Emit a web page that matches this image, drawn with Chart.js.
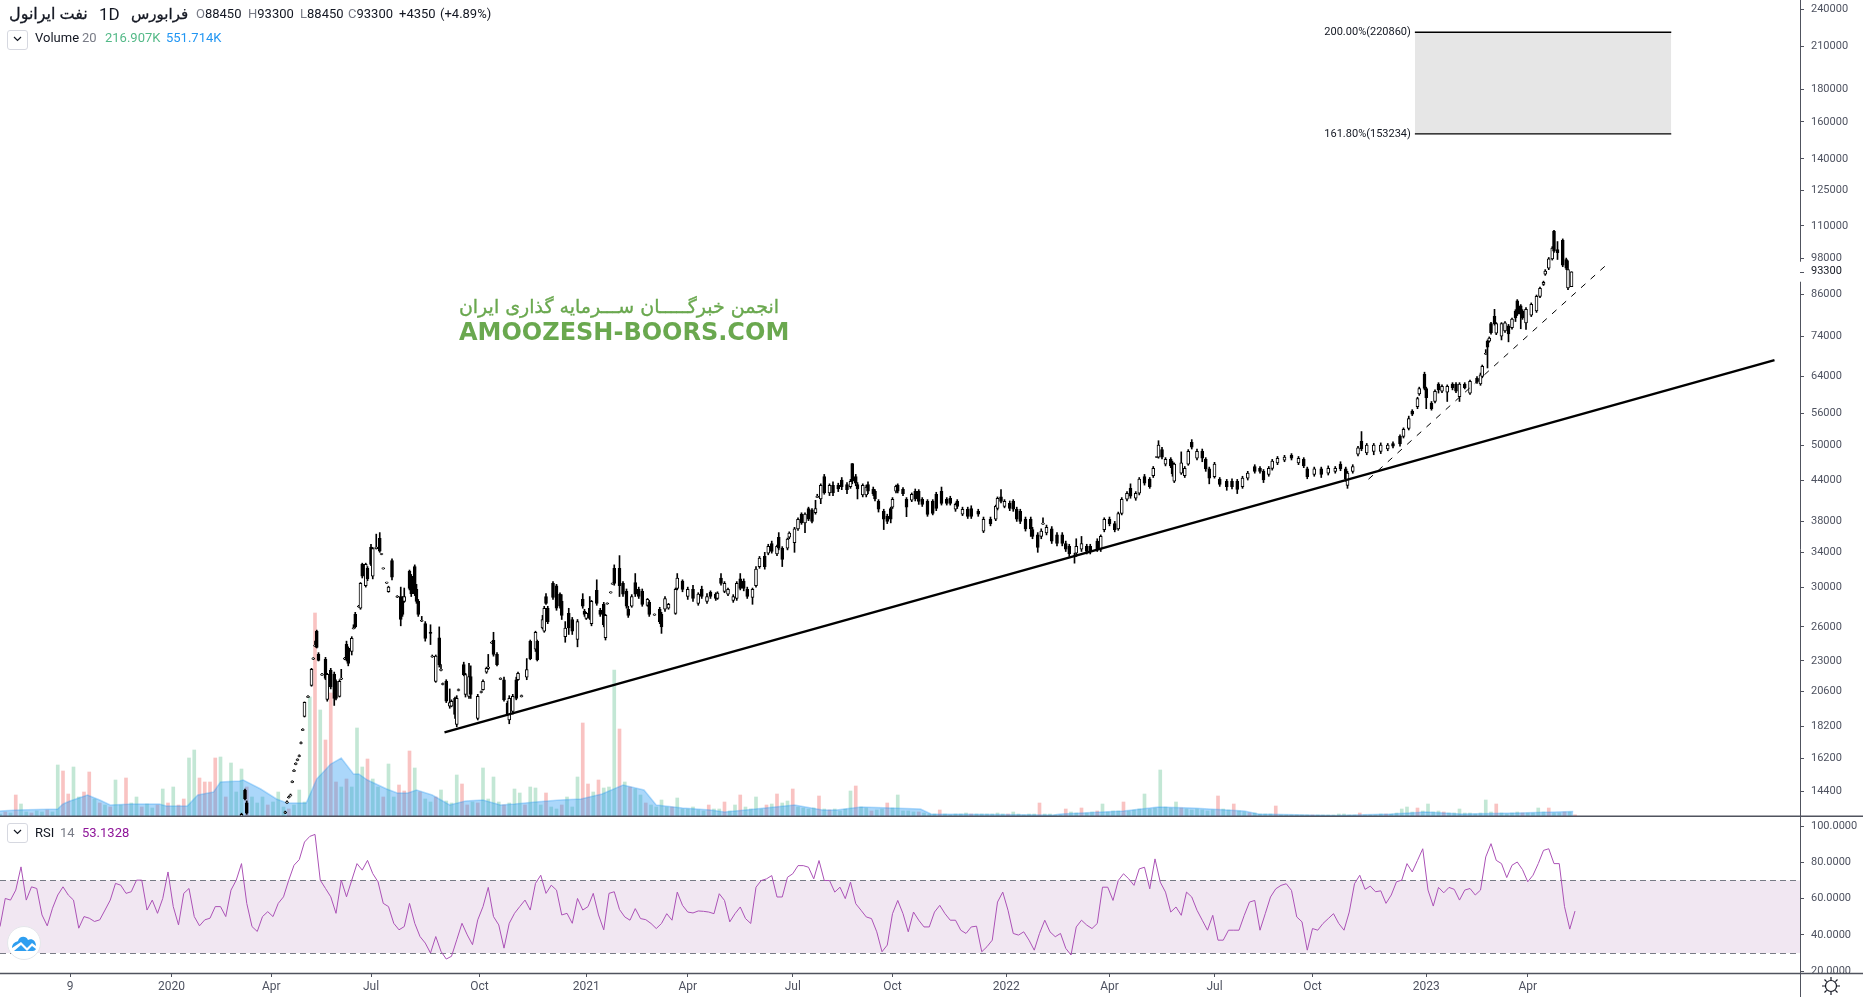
<!DOCTYPE html>
<html>
<head>
<meta charset="utf-8">
<title>نفت ایرانول</title>
<script src="https://cdn.jsdelivr.net/npm/chart.js@4/dist/chart.umd.js"></script>
<style>
  html, body { margin: 0; padding: 0; background: #fff; overflow: hidden; }
  #wrap { position: relative; width: 1863px; height: 997px; font-family: Roboto, "DejaVu Sans", sans-serif; color: #131722; }
  canvas { position: absolute; left: 0; }
  #main-chart { top: 0; }
  #rsi-chart { top: 817px; }
  .t { position: absolute; white-space: nowrap; font-size: 13px; line-height: 16px; }
  .box { position: absolute; left: 7px; width: 19px; height: 18px; border: 1px solid #d6d8e0; border-radius: 3px; background: #fff; }
  .box svg { display: block; margin: 5px auto 0; }
  .wm { position: absolute; white-space: nowrap; color: #6aa84f; }
</style>
</head>
<body>
<div id="wrap">
  <canvas id="main-chart" width="1863" height="817"></canvas>
  <canvas id="rsi-chart" width="1863" height="180"></canvas>

  <span class="t" style="left:9px;top:6px;font-size:16px;-webkit-text-stroke:0.3px #131722" dir="rtl">نفت ایرانول</span>
  <span class="t" style="left:99px;top:6px;font-size:17px">1D</span>
  <span class="t" style="left:131px;top:6px;font-size:15px;-webkit-text-stroke:0.3px #131722" dir="rtl">فرابورس</span>
  <span class="t" style="left:196px;top:6px"><span style="color:#787b86">O</span>88450</span>
  <span class="t" style="left:248px;top:6px"><span style="color:#787b86">H</span>93300</span>
  <span class="t" style="left:300px;top:6px"><span style="color:#787b86">L</span>88450</span>
  <span class="t" style="left:348px;top:6px"><span style="color:#787b86">C</span>93300</span>
  <span class="t" style="left:399px;top:6px">+4350</span>
  <span class="t" style="left:440px;top:6px">(+4.89%)</span>

  <div class="box" style="top:30px"><svg width="9" height="6"><path d="M1 1 L4.5 4.5 L8 1" fill="none" stroke="#131722" stroke-width="1.2"/></svg></div>
  <span class="t" style="left:35px;top:30px">Volume</span>
  <span class="t" style="left:82px;top:30px;color:#787b86">20</span>
  <span class="t" style="left:105px;top:30px;color:#53b987">216.907K</span>
  <span class="t" style="left:166px;top:30px;color:#2196f3">551.714K</span>

  <div class="box" style="top:823px"><svg width="9" height="6"><path d="M1 1 L4.5 4.5 L8 1" fill="none" stroke="#131722" stroke-width="1.2"/></svg></div>
  <span class="t" style="left:35px;top:825px">RSI</span>
  <span class="t" style="left:60px;top:825px;color:#787b86">14</span>
  <span class="t" style="left:82px;top:825px;color:#8e1599">53.1328</span>

  <span class="wm" style="left:458px;top:295px;width:322px;text-align:center;font:19px 'DejaVu Sans';-webkit-text-stroke:0.35px #6aa84f" dir="rtl">انجمن خبرگـــــان ســـرمایه گذاری ایران</span>
  <span class="wm" style="left:459px;top:318px;font:bold 24px 'DejaVu Sans'">AMOOZESH-BOORS.COM</span>

  <svg style="position:absolute;left:6px;top:925px" width="36" height="36">
    <circle cx="18" cy="18" r="16.5" fill="#fff" stroke="#e4e6ea"/>
    <path d="M6 23 C6 18 10 17 12 16 C13 11 20 10 22 15 C26 13 30 16 30 21 L26 18 L21 23 L15 17 Z M8 26 L15 20 L21 26 L26 21 L30 24 C29 26 27 26 26 26 Z" fill="#2e9ef0"/>
  </svg>
  <svg style="position:absolute;left:1821px;top:976px" width="20" height="20">
    <circle cx="10" cy="10" r="5.5" fill="none" stroke="#131722" stroke-width="1.2"/>
    <path d="M10 1 V4 M10 16 V19 M1 10 H4 M16 10 H19 M3.5 3.5 L5.6 5.6 M14.4 14.4 L16.5 16.5 M3.5 16.5 L5.6 14.4 M14.4 5.6 L16.5 3.5" stroke="#131722" stroke-width="1.2"/>
  </svg>
</div>

<script>
// price axis
const priceTicks = [240000, 210000, 180000, 160000, 140000, 125000, 110000, 98000, 93300, 86000, 74000, 64000, 56000, 50000, 44000, 38000, 34000, 30000, 26000, 23000, 20600, 18200, 16200, 14400];
const rsiTicks = [100, 80, 60, 40, 20];
// time axis, in trading sessions from the left edge
const timeTickSessions = [40, 98, 155, 212, 274, 335, 393, 453, 510, 575, 634, 694, 750, 815, 873];
const timeTickLabels = ['9', '2020', 'Apr', 'Jul', 'Oct', '2021', 'Apr', 'Jul', 'Oct', '2022', 'Apr', 'Jul', 'Oct', '2023', 'Apr'];
const lastPrice = 93300;

const sessions = [
  138,140,141,163,164,165,166,167,168,169,
  170,171,172,173,174,176,178,179,180,181,
  182,184,186,187,189,191,192,194,195,197,
  198,199,201,202,203,205,206,207,209,210,
  212,213,215,217,218,219,221,222,224,227,
  229,230,231,234,235,237,238,239,241,243,
  246,247,249,251,252,253,255,257,258,260,
  261,262,265,266,268,269,273,275,276,278,
  279,281,282,284,286,288,290,291,293,295,
  296,298,301,303,306,307,310,311,312,313,
  316,318,320,321,323,325,327,330,333,334,
  335,337,338,341,343,345,346,347,349,350,
  351,354,356,358,359,361,363,365,367,370,
  371,374,377,378,380,382,386,387,390,393,
  396,399,401,404,406,409,410,412,414,416,
  419,421,423,425,427,430,432,434,437,439,
  441,444,445,447,450,451,454,456,458,460,
  462,464,466,467,469,471,474,476,479,481,
  484,486,487,489,490,493,495,496,499,500,
  502,505,507,509,510,512,513,516,518,521,
  523,525,527,530,533,535,538,541,543,546,
  547,550,553,555,559,562,566,569,570,572,
  574,577,579,581,583,586,589,590,593,595,
  596,598,601,604,607,609,611,614,615,618,
  621,623,627,629,631,634,637,639,641,644,
  646,649,651,654,657,659,661,662,664,666,
  669,670,671,675,677,679,681,684,687,689,
  691,694,697,701,704,707,710,713,717,720,
  722,725,727,730,734,738,742,745,747,751,
  755,759,763,766,769,770,773,776,778,781,
  785,789,793,796,800,802,805,807,810,811,
  814,815,818,820,822,824,827,830,832,834,
  837,840,844,846,847,849,850,851,852,854,
  855,858,860,862,864,866,867,869,870,872,
  875,878,880,882,883,885,887,888,890,893,
  895,896,898
];
const opens = [
  13100,14450,13800,13300,13800,14060,14160,14860,15460,15850,
  16080,16310,17090,17920,18840,20180,21060,23150,24260,25590,
  23550,21860,23130,20020,22240,21930,21370,20250,21550,23150,
  24420,24060,23810,25830,27200,27930,27800,32550,30150,32100,
  34650,31200,34450,35750,33730,32030,30430,29500,33000,28930,
  29000,28800,28500,31750,31200,32300,29750,28500,26530,26300,
  25500,23330,21370,25000,22230,21130,21370,19550,19550,20100,
  18300,20680,22700,20400,20250,21750,18700,20530,20750,22100,
  22400,24530,24780,23550,21530,21500,19750,18600,19180,21500,
  21500,20230,21700,24680,24000,24680,25900,25600,29000,27800,
  30400,30150,29250,28500,25100,27300,26700,24850,28700,27500,
  26800,27800,26300,29650,27600,28200,25000,28230,29380,30330,
  32100,32100,30400,29550,27700,28000,30500,29750,29550,28100,
  28400,27130,27700,27200,27700,27800,27300,29850,30650,29000,
  29750,28300,29750,28500,29450,29250,28800,31000,29550,29250,
  28600,28800,30900,30650,29750,28900,30150,32300,33500,33900,
  35100,33800,35900,34500,34500,35900,35200,37000,39000,37800,
  39800,39600,39200,41430,41200,44650,42100,43250,43250,44100,
  43400,43050,46800,44650,43400,41800,41800,43400,42650,42350,
  40850,39400,38700,39800,40000,42350,43250,42650,41150,41000,
  42350,42350,41150,40850,40850,41900,42350,41150,41300,39700,
  40850,39000,39700,39800,39400,36700,38300,38300,39800,41500,
  40100,40550,40850,39700,39400,38300,38300,36900,36200,36000,
  37630,36450,37000,36200,36200,35100,34750,33430,33900,34400,
  34750,34750,35400,34400,36900,38300,37700,37000,39100,41150,
  42800,41300,42050,44650,44250,44800,47830,47900,49200,46700,
  47500,46900,43900,45200,44800,46700,50500,47700,48900,47500,
  45900,44650,44250,43900,43900,43900,43050,44400,46300,46000,
  45500,45000,46000,46900,47350,48200,46900,47500,45900,45000,
  45900,45200,45500,46700,45900,43250,45500,48400,50700,48600,
  48900,48900,49300,50300,51600,51600,53100,56500,57400,60100,
  64500,61300,58150,58500,62300,60700,60500,62300,62300,59500,
  62300,60300,63600,62300,64000,69330,72700,72700,77400,79500,
  74800,74000,75400,76800,76300,81000,84000,82500,81000,77600,
  79800,81000,85400,89100,92500,94500,97700,108000,101000,104500,
  97500,88000,88450
];
const highs = [
  13300,14500,13900,13400,13900,14150,14250,14950,15560,15950,
  16180,16410,17200,18030,19850,20300,22400,23280,24700,25700,
  23700,22000,23300,22000,22400,22100,21500,21500,22320,23300,
  24700,24200,25100,26200,27400,28100,30500,32700,32700,32300,
  35000,34600,36300,36500,33850,32150,30550,30100,33200,29100,
  30000,29000,29900,31900,31400,32500,30300,28700,27000,26500,
  26200,23500,23500,26000,22700,21250,21500,20800,20000,20200,
  20300,20800,22900,22000,22800,22600,20400,20650,21500,22500,
  23550,24650,25500,23700,21650,21700,19900,20300,20400,21700,
  22100,20350,23200,24800,25600,24800,27100,28000,29300,28000,
  30600,30300,29400,29200,26500,27800,26900,26700,29300,27700,
  27400,29000,28600,30800,27800,28400,27200,28350,29500,30450,
  32500,33600,30600,29800,28000,29200,31500,30000,29800,28800,
  28600,27250,27900,27400,29000,28300,29900,31500,30800,30000,
  30200,29400,30100,29300,29600,29400,29500,31500,30600,29900,
  29200,30600,31500,30900,30000,29900,32300,33500,34000,35000,
  35400,34900,36500,34700,35800,36600,37200,38500,39200,39200,
  40000,39800,41000,41900,43500,45000,43500,43800,43600,44500,
  43700,44200,46800,45000,43700,43500,43300,43800,43000,42600,
  41100,39700,39000,40000,41400,43300,43500,42900,41400,42100,
  42700,42600,41400,41100,41100,42200,43000,41400,41600,40600,
  41100,40000,40000,40200,39700,38600,38600,40300,41500,42600,
  41100,40900,41100,40000,39700,38600,38600,37200,36500,37000,
  38500,37500,37300,36500,36500,35400,35000,33900,35700,36000,
  35000,35000,35700,36200,38500,38600,38000,39300,41400,42300,
  43500,42300,44500,45000,44500,46300,47950,50800,49600,47800,
  47800,47200,46900,48800,46300,49200,51000,49300,49300,47800,
  46200,47000,44500,44200,44300,44200,44700,45500,46600,46300,
  45800,46300,47500,48000,48200,48500,48000,47800,46200,46200,
  46200,46400,46300,47100,46200,45500,46600,49800,52500,50300,
  50300,50400,50300,50600,51900,53200,55500,56800,59400,61600,
  65000,61600,58500,61000,62600,62100,62100,62600,62600,62600,
  62600,63200,64000,64800,66700,70500,73000,73800,77800,81500,
  77700,77700,78000,77200,79000,81400,84400,82900,81400,82000,
  83400,85800,88300,90200,94000,98200,102100,108300,104000,105000,
  98000,97000,93300
];
const lows = [
  13000,13950,13250,13280,13780,14040,14140,14840,15440,15830,
  16060,16290,17070,17900,18800,20150,21000,23120,24240,24100,
  23000,21830,21500,19900,20800,19600,20000,20200,21500,23100,
  23000,22600,23500,25800,25900,27900,27700,31000,30000,30700,
  32400,30900,34400,34000,33700,32000,30400,29450,30800,28900,
  26100,27000,28400,29700,29000,29100,28300,27000,26500,24700,
  24400,23300,21300,22500,22200,21100,19800,19400,19500,18700,
  18150,20650,21800,20200,20100,20100,18600,20500,20700,22000,
  22300,24500,23400,22600,21500,19900,18900,18350,19000,20000,
  21450,20200,21500,23100,23800,23000,25800,25500,28200,26300,
  28700,27600,27800,26700,24600,25300,25300,24200,27800,27000,
  26700,26700,26100,28100,27000,26000,24800,28200,29350,30300,
  30200,29000,29000,27800,26900,27900,29000,28800,28000,28000,
  27000,27100,26300,25400,27500,27700,27200,29700,29500,28700,
  28500,28100,28800,28300,28800,28600,28700,30200,29400,29100,
  28400,28600,29700,29600,28800,28200,30000,32100,32000,33700,
  33900,33600,34300,32300,34300,35700,34000,36800,37600,36500,
  38100,37800,39000,41400,40500,41900,41700,41700,42300,42600,
  42000,42800,43500,43200,41200,41500,41500,42000,41700,40900,
  39300,36900,37700,37800,39800,42100,42100,41700,38650,40800,
  40900,40400,40100,38700,38900,39500,40300,40300,40300,39400,
  39800,38800,38400,38400,38700,36500,37400,38100,39600,40600,
  39900,39500,39400,38000,37700,36700,36000,35700,34000,35700,
  37600,36200,35100,34800,34800,34100,33500,32700,33500,34100,
  33800,33800,34100,34100,36600,37400,36600,36800,38900,40900,
  41300,41000,41800,43300,42800,44500,47800,47700,47600,46400,
  46100,44700,43700,45000,44500,46500,49300,47400,47100,45500,
  43500,44400,43100,42500,42700,42000,42800,44100,45200,45200,
  43700,44700,45700,46600,47100,47400,46600,46100,44300,44700,
  44500,44900,45200,45600,43900,42800,45200,48100,49000,48300,
  48300,48500,49000,49500,49800,51300,52800,55600,57000,59800,
  61000,57000,56700,58200,60300,60400,58500,61000,60400,58500,
  61200,60000,62400,62000,63700,69300,66000,72400,74500,77000,
  74400,73000,75000,72500,75900,78000,79700,76000,78600,75800,
  79400,80600,85000,88800,92100,94000,97300,100000,97500,95000,
  94000,87500,88450
];
const closes = [
  13250,14000,13300,13370,13860,14110,14210,14910,15520,15910,
  16140,16370,17150,17980,19820,20250,22320,23220,24330,24150,
  23050,21930,21600,21930,20950,20100,20100,21370,21600,23220,
  23130,22800,24950,25900,26000,28000,30400,31200,32550,30900,
  32550,34450,34650,34150,33800,32100,30500,30000,31100,29000,
  26700,27200,29000,29850,29300,29300,28500,27200,26600,24950,
  25400,23400,23400,22700,22300,21200,19900,19800,19900,18980,
  20100,20750,21900,21900,21750,20400,20250,20600,21370,22400,
  22500,24600,23550,22700,21600,20000,19000,20100,20250,20100,
  22000,20300,22300,23200,25500,23100,26700,27800,28300,26500,
  28900,27800,28000,27100,25900,25900,25600,26500,28000,27200,
  27300,26800,28500,28300,27200,26200,27100,28300,29450,30400,
  30400,30150,29250,28000,27100,29000,29250,29000,28200,28700,
  27200,27200,26500,26000,28800,28200,29750,31000,29750,29750,
  28800,29250,29000,29000,29000,28800,29350,30400,30400,29750,
  29000,30400,29850,29850,29000,29750,32000,33300,32300,34750,
  34100,34750,34500,33150,35650,36450,37000,38300,37800,39000,
  38300,38000,39800,41500,43250,42100,43250,42100,42700,43050,
  42600,43900,43900,43600,42700,43250,43000,42350,42000,41200,
  39700,38300,38000,38300,41150,43100,42350,42000,40000,41900,
  41200,40850,40400,38950,39100,39800,40550,40550,40550,40400,
  40100,39700,38700,38700,39000,38300,37700,40100,41300,40850,
  40850,39800,39700,38300,38000,37000,37000,36000,34600,36700,
  37700,37200,35400,35100,35100,34400,33800,33500,34750,35100,
  34100,34100,34400,36000,38300,37700,36900,39100,41150,42050,
  41600,42050,44250,43600,43050,46000,47900,50000,47900,47500,
  46400,45100,46700,46900,46000,48900,49650,48900,47700,45900,
  44400,46700,43400,43050,43050,42650,44400,45200,45500,45500,
  44100,46000,47200,47700,47900,47700,47700,46400,44650,45900,
  45000,46000,46000,45900,44250,45200,46300,49500,49300,50000,
  50000,50000,50000,49800,50200,52900,55000,55900,59100,61300,
  61300,59300,57000,60700,61000,61800,61800,61500,60700,62300,
  61500,62900,62700,64400,66400,69400,71100,73500,74900,77400,
  77400,77400,77600,74600,78700,79000,80100,80100,79000,81500,
  83000,85400,87900,89800,93500,97700,101600,100500,99900,95500,
  94500,94000,93300
];

// one bar every third session, in thousands
const volumes = [
  300,500,400,2200,1300,500,400,600,500,700,500,
  5200,4600,2300,5000,2000,2500,4500,1800,1400,1200,1000,3700,1200,3900,1400,2000,1000,1300,900,1200,2800,1400,3000,1200,1800,5900,6700,3900,3500,3500,5900,6000,2000,5400,2500,4800,3000,2000,1400,2000,1200,1500,2500,1000,800,1200,2700,1500,
  12000,20400,10700,7700,12400,3500,3000,3800,3000,8900,5000,5800,3800,3000,2000,5300,2000,3200,2600,6600,4900,2500,1800,1500,2000,2700,1600,1400,4200,3300,1200,1500,1400,4900,1800,4000,1500,1200,1400,2800,2400,1200,3000,2900,1200,2400,1000,800,1200,2000,1000,4000,9400,3300,2500,3700,2900,3000,14700,8800,3500,3000,2800,2200,1400,1200,1000,1700,1000,1000,1900,800,800,1000,700,600,1200,800,800,1500,600,1200,2200,1000,800,2000,800,1200,1300,2300,1400,1600,2800,1000,900,800,900,2100,800,700,800,600,800,2600,3100,1000,900,600,700,800,1400,900,2200,600,600,500,500,400,300,300,700,300,200,300,300,400,300,300,300,300,300,400,300,300,500,300,200,300,300,1400,300,300,200,200,800,500,400,900,400,500,600,1300,500,600,600,1500,600,700,800,2300,800,900,4700,1000,900,1500,900,800,700,800,700,600,700,2100,800,700,1300,600,500,400,400,300,300,300,1100,200,200,200,200,200,200,200,200,200,200,200,300,300,200,200,400,200,200,200,300,300,300,400,800,1000,500,900,600,1300,500,600,500,400,400,800,400,400,300,400,1700,500,1300,400,300,400,500,400,400,400,900,500,900,400,400,500,500,216.907
];
// bars drawn red, the rest are green
const downVolumeBars = [1,3,6,9,12,13,16,17,19,21,24,27,30,32,34,35,38,39,40,41,43,47,51,55,60,62,63,64,66,70,73,76,77,78,80,83,88,89,91,96,100,104,107,111,112,114,118,120,123,128,135,138,141,146,148,151,156,158,163,166,169,175,179,185,192,198,203,206,209,214,225,232,235,238,243,250,259,264,270,275,285,290,295,298,300];
const maSessions = [0,10,33,36,40,50,57,63,76,91,95,107,113,122,126,137,139,149,158,164,175,181,189,195,202,205,210,221,227,233,238,247,257,266,276,286,294,306,320,332,344,356,368,375,390,406,414,426,454,470,478,492,526,532,602,606,642,662,681,711,719,763,795,815,835,867,899];
const maVolumes = [600,700,800,1300,1600,2200,1700,1200,1300,1300,1100,1100,2200,2500,3500,3600,3700,2800,1800,1400,1400,3800,5300,5900,4300,4300,3700,2800,2400,2400,2700,2200,1200,1600,1700,1200,1300,1500,1700,1800,2300,3200,2700,1200,900,700,500,700,1200,700,700,1000,800,300,200,300,600,1000,900,600,300,150,300,500,300,400,551.714];

// one reading every third session
const rsiValues = [
  44.6,60.1,59.2,64.7,77.5,59.2,66.5,65.6,51,45,54.7,62,66.5,62,59.2,43.7,50.1,49.2,47.4,48.3,
  53.7,59.2,68.4,67.4,62.9,63.8,70.2,70.2,53.7,59.2,51.9,60.1,74.7,55.6,45.5,62.9,65.6,50.1,45,48.3,
  49.2,55.6,55.6,50.1,64.7,70.2,79.3,57.4,44.6,41.9,50.1,52.8,50.1,57.4,61,70.2,78.4,81.5,91.2,94.3,
  95.4,70.2,65.6,61,51.9,70.2,61,70.2,79.3,75.7,81.1,73.8,69.3,57.4,55.6,46.4,42.8,44.6,57.4,46.4,
  39.1,35.5,30,39.1,30.9,26.7,28.2,37.3,46.4,40,34.6,48.3,55.6,66.2,50.1,45.5,32.7,46.4,51.9,55.6,
  59.2,53.7,68.4,72.9,62.9,67.4,64.7,51,51.9,46.4,60.1,53.7,55.6,62.9,51,42.8,62.9,63.8,54,
  49.9,48.1,54.5,49,48.4,46.3,43.5,46.3,51.7,48.1,63.6,56.3,52.6,52.1,53.2,53,52.6,51.7,62.7,59,
  47.2,51.7,55.4,49,46.3,66.3,70,70.9,72.7,60.9,60.9,71.8,73.7,78.2,78.2,77.3,70.9,81,70,70,
  63.6,66.3,60,69.1,57.2,53.6,49.9,49,41.7,30.7,34.4,51.7,59,51.7,41.7,52.6,48.1,44.4,44.4,52.6,
  56.3,51.7,48.1,48.1,42.6,40.8,44.4,44.8,30.7,33.5,37.1,58.1,63.6,53.6,40.8,39.9,41.7,37.1,31.6,40.8,
  48.1,41.7,39,40.8,32.6,28.9,44.4,48.1,45.4,43.5,46.3,66.3,66.3,59,70,73.7,70.9,67.3,76.4,77.3,
  65.4,81.9,69.1,63.6,52.6,55.4,50.8,63.6,60.9,53.6,48.1,42.6,50.8,37.1,37.1,42.6,42.6,42.6,50.8,58.1,
  59,42.6,51.7,60.9,65.4,67.3,68.2,64.5,49.9,47.2,31.6,43.5,42.6,46.3,49,51.7,46.3,42.6,52.6,68.2,
  72.9,65.1,66.9,63.8,64.3,57.4,62,69.3,70.2,79.3,74.7,81.1,87.5,64.7,55.9,66.2,63.2,66.2,65.1,59.2,
  64.7,65.6,62,64.7,83,90.3,81.1,79.3,71.6,78.4,80.2,76,69.3,72.9,79.3,86.6,87.5,79.3,79.3,55.6,
  43.2,53.13
];

// drawings
const trendSessions = [254, 1014];
const trendPrices = [17790, 67880];
const dashedSessions = [782, 919];
const dashedPrices = [44230, 96200];
const fibSessions = [808.5, 955];
const fibLevels = [220860, 153234];
const fibNames = ['200.00%', '161.80%'];

const priceMin = 13120;
const priceMax = 248000;
const sessionMax = 1028.57;
const rsiMin = 19;
const rsiMax = 105;
const axisColor = '#50535e';
const labelColor = '#4e5260';
const labelFont = { family: 'Roboto', size: 11 };

function pairs(xs, ys) {
  return xs.map((x, i) => ({ x, y: ys[i] }));
}

function isUp(i) {
  return closes[i] >= opens[i];
}

const wickData = sessions.map((s, i) => ({ x: s, y: [lows[i], highs[i]] }));
const bodyData = sessions.map((s, i) => ({ x: s, y: [opens[i], closes[i]] }));
const volumeData = volumes.map((v, i) => ({ x: i * 3, y: v }));
const rsiData = rsiValues.map((v, i) => ({ x: i * 3, y: v }));

function fitRightAxis(scale) {
  scale.width = 63;
  scale.paddingTop = 0;
  scale.paddingBottom = 0;
}

// axis line is drawn here so it can stop around the last price label
const mainAxisPlugin = {
  id: 'mainAxis',
  afterDraw(chart) {
    const c = chart.ctx;
    const y = chart.scales.y;
    const area = chart.chartArea;
    const py = y.getPixelForValue(lastPrice);
    c.save();
    c.fillStyle = '#fff';
    c.fillRect(area.right - 1, py - 10, 5, 20);
    c.strokeStyle = axisColor;
    c.lineWidth = 1;
    c.beginPath();
    c.moveTo(area.right + 0.5, 0);
    c.lineTo(area.right + 0.5, py - 10);
    c.moveTo(area.right + 0.5, py + 10);
    c.lineTo(area.right + 0.5, chart.height);
    c.moveTo(area.right, Math.round(py) + 0.5);
    c.lineTo(area.right + 4, Math.round(py) + 0.5);
    c.stroke();
    c.lineWidth = 2;
    c.beginPath();
    c.moveTo(0, chart.height - 0.5);
    c.lineTo(chart.width, chart.height - 0.5);
    c.stroke();

    c.fillStyle = '#131722';
    c.font = '11px Roboto';
    c.textAlign = 'right';
    c.textBaseline = 'middle';
    const fx = chart.scales.x.getPixelForValue(fibSessions[0]) - 4;
    fibLevels.forEach((level, i) => {
      c.fillText(fibNames[i] + '(' + level + ')', fx, y.getPixelForValue(level));
    });
    c.restore();
  }
};

const rsiAxisPlugin = {
  id: 'rsiAxis',
  beforeDraw(chart) {
    const c = chart.ctx;
    const y = chart.scales.y;
    const area = chart.chartArea;
    c.save();
    c.fillStyle = 'rgba(130, 40, 140, 0.11)';
    c.fillRect(area.left, y.getPixelForValue(70), area.width, y.getPixelForValue(30) - y.getPixelForValue(70));
    c.strokeStyle = '#787b86';
    c.lineWidth = 1;
    c.setLineDash([6, 4]);
    [70, 30].forEach(level => {
      const py = Math.round(y.getPixelForValue(level)) + 0.5;
      c.beginPath();
      c.moveTo(area.left, py);
      c.lineTo(area.right, py);
      c.stroke();
    });
    c.restore();
  },
  afterDraw(chart) {
    const c = chart.ctx;
    const area = chart.chartArea;
    c.save();
    c.fillStyle = '#fff';
    c.fillRect(area.right + 1, area.bottom, 62, chart.height - area.bottom);
    c.strokeStyle = axisColor;
    c.lineWidth = 1;
    c.beginPath();
    c.moveTo(area.right + 0.5, 0);
    c.lineTo(area.right + 0.5, chart.height);
    c.stroke();
    c.lineWidth = 1.5;
    c.beginPath();
    c.moveTo(0, area.bottom + 0.5);
    c.lineTo(chart.width, area.bottom + 0.5);
    c.stroke();
    c.restore();
  }
};

const mainChart = new Chart(document.getElementById('main-chart').getContext('2d'), {
  data: {
    datasets: [
      {
        type: 'bar',
        data: volumeData,
        yAxisID: 'yVol',
        order: 9,
        barThickness: 3,
        grouped: false,
        backgroundColor: ctx => downVolumeBars.includes(ctx.dataIndex) ? 'rgba(239, 83, 80, 0.35)' : 'rgba(83, 185, 135, 0.35)'
      },
      {
        type: 'line',
        data: pairs(maSessions, maVolumes),
        yAxisID: 'yVol',
        order: 8,
        fill: 'origin',
        backgroundColor: 'rgba(33, 150, 243, 0.38)',
        borderColor: 'rgba(33, 150, 243, 0.3)',
        borderWidth: 1.5,
        pointRadius: 0
      },
      {
        type: 'line',
        data: pairs(fibSessions, [fibLevels[0], fibLevels[0]]),
        order: 7,
        fill: '+1',
        backgroundColor: '#e6e6e6',
        borderColor: '#000',
        borderWidth: 1.4,
        pointRadius: 0
      },
      {
        type: 'line',
        data: pairs(fibSessions, [fibLevels[1], fibLevels[1]]),
        order: 6,
        borderColor: '#000',
        borderWidth: 1.4,
        pointRadius: 0
      },
      {
        type: 'bar',
        data: wickData,
        order: 5,
        barThickness: 1,
        grouped: false,
        backgroundColor: '#000'
      },
      {
        type: 'bar',
        data: bodyData,
        order: 4,
        barThickness: 3,
        grouped: false,
        minBarLength: 1,
        borderSkipped: false,
        borderWidth: 1,
        borderColor: '#000',
        backgroundColor: ctx => isUp(ctx.dataIndex) ? '#fff' : '#000'
      },
      {
        type: 'line',
        data: pairs(trendSessions, trendPrices),
        order: 3,
        borderColor: '#000',
        borderWidth: 2.5,
        pointRadius: 0
      },
      {
        type: 'line',
        data: pairs(dashedSessions, dashedPrices),
        order: 2,
        borderColor: '#000',
        borderWidth: 1,
        borderDash: [6, 7],
        pointRadius: 0
      }
    ]
  },
  options: {
    responsive: false,
    animation: false,
    devicePixelRatio: 1,
    layout: { padding: 0 },
    plugins: { legend: { display: false }, tooltip: { enabled: false } },
    scales: {
      x: { type: 'linear', display: false, offset: false, min: 0, max: sessionMax },
      y: {
        type: 'logarithmic',
        position: 'right',
        min: priceMin,
        max: priceMax,
        afterFit: fitRightAxis,
        afterBuildTicks: scale => { scale.ticks = priceTicks.map(value => ({ value })); },
        border: { display: false },
        grid: { drawOnChartArea: false, drawTicks: true, tickLength: 4, color: axisColor },
        ticks: {
          autoSkip: false,
          padding: 7,
          maxRotation: 0,
          color: ctx => ctx.tick.value === lastPrice ? '#131722' : labelColor,
          font: labelFont,
          callback: v => String(v)
        }
      },
      yVol: { type: 'linear', display: false, min: 0, max: 81700 }
    }
  },
  plugins: [mainAxisPlugin]
});

const rsiChart = new Chart(document.getElementById('rsi-chart').getContext('2d'), {
  type: 'line',
  data: {
    datasets: [{
      data: rsiData,
      borderColor: '#ab52b6',
      borderWidth: 1,
      pointRadius: 0
    }]
  },
  options: {
    responsive: false,
    animation: false,
    devicePixelRatio: 1,
    layout: { padding: 0 },
    plugins: { legend: { display: false }, tooltip: { enabled: false } },
    scales: {
      x: {
        type: 'linear',
        min: 0,
        max: sessionMax,
        afterFit: scale => { scale.height = 24; scale.paddingLeft = 0; scale.paddingRight = 0; },
        afterBuildTicks: scale => { scale.ticks = timeTickSessions.map(value => ({ value })); },
        border: { display: false },
        grid: { drawOnChartArea: false, drawTicks: true, tickLength: 4, color: axisColor },
        ticks: {
          autoSkip: false,
          maxRotation: 0,
          padding: 3,
          color: labelColor,
          font: { family: 'Roboto', size: 12 },
          callback: (v, i) => timeTickLabels[i]
        }
      },
      y: {
        position: 'right',
        min: rsiMin,
        max: rsiMax,
        afterFit: fitRightAxis,
        afterBuildTicks: scale => { scale.ticks = rsiTicks.map(value => ({ value })); },
        border: { display: false },
        grid: { drawOnChartArea: false, drawTicks: true, tickLength: 4, color: axisColor },
        ticks: {
          autoSkip: false,
          padding: 7,
          color: labelColor,
          font: labelFont,
          callback: v => v.toFixed(4)
        }
      }
    }
  },
  plugins: [rsiAxisPlugin]
});
</script>
</body>
</html>
